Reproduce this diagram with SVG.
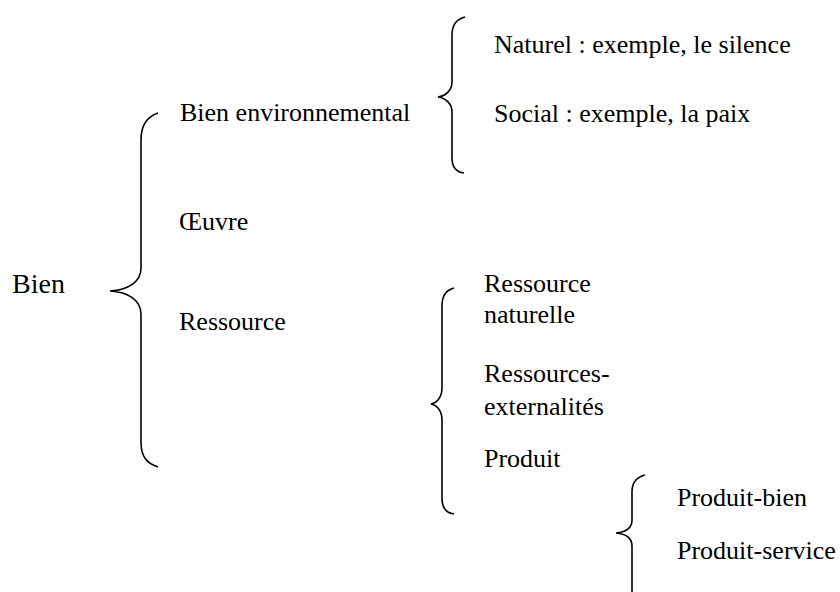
<svg xmlns="http://www.w3.org/2000/svg" width="840" height="592" viewBox="0 0 840 592">
<style>
text{font-family:"Liberation Serif","Times New Roman",serif;font-size:26px;fill:#000}
.brace{fill:none;stroke:#000;stroke-width:1.6}
</style>
<rect width="840" height="592" fill="#fff"/>
<g id="connectors">
<path class="brace" d="M158,113 C146,117 141,126 141,140 L141,268 C141,282 128,290 110,291 C128,292 141,300 141,314 L141,442 C141,456 146,463 158,467"/>
<path class="brace" d="M465,17 C457,19 452,25 452,35 L452,82 C452,90 446,96 438,97 C446,98 452,104 452,112 L452,158 C452,167 456,172 464,173"/>
<path class="brace" d="M454,288 C446,290 442,296 442,306 L442,388 C442,397 437,403 431,404 C437,405 442,411 442,420 L442,498 C442,508 446,513 454,514"/>
<path class="brace" d="M645,475 C637,477 632,483 632,492 L632,520 C632,528 627,532 616,533 C627,534 632,538 632,546 L632,592"/>
</g>
<g id="bien"><text x="12" y="293" style="font-size:28px">Bien</text></g>
<g id="bien-env"><text x="180" y="121">Bien environnemental</text></g>
<g id="oeuvre"><text x="179" y="230">Œuvre</text></g>
<g id="ressource"><text x="179" y="330">Ressource</text></g>
<g id="naturel"><text x="494" y="53">Naturel : exemple, le silence</text></g>
<g id="social"><text x="494" y="122">Social : exemple, la paix</text></g>
<g id="ress-nat"><text x="484" y="292">Ressource</text><text x="484" y="323">naturelle</text></g>
<g id="ress-ext"><text x="484" y="382">Ressources-</text><text x="484" y="415">externalités</text></g>
<g id="produit"><text x="484" y="467">Produit</text></g>
<g id="produit-bien"><text x="677" y="506">Produit-bien</text></g>
<g id="produit-service"><text x="677" y="559">Produit-service</text></g>
</svg>
